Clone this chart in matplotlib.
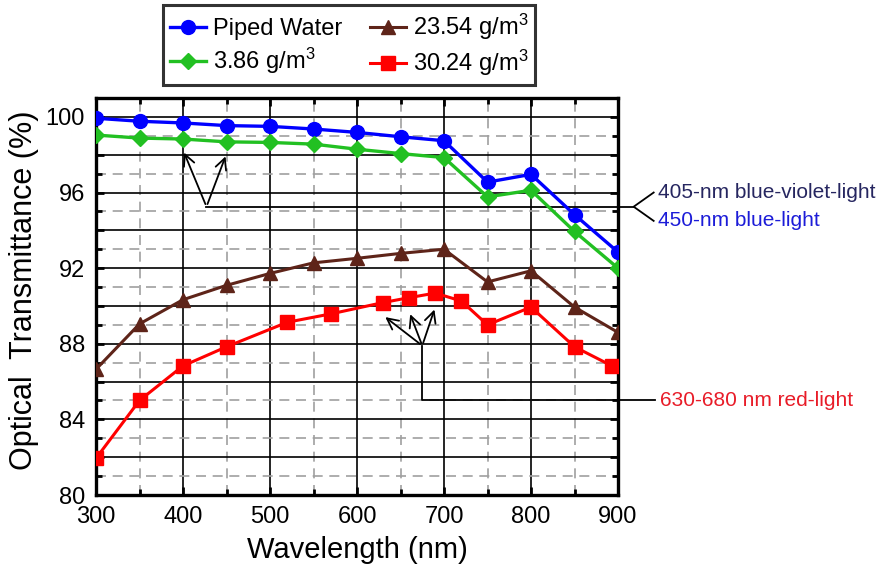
import matplotlib
matplotlib.use("Agg")
import matplotlib.pyplot as plt
from matplotlib.ticker import MultipleLocator, FuncFormatter

plt.rcParams['font.family'] = ['Liberation Sans', 'DejaVu Sans']
plt.rcParams['mathtext.fontset'] = 'custom'
plt.rcParams['mathtext.rm'] = 'Liberation Sans'
plt.rcParams['mathtext.it'] = 'Liberation Sans'

# ── Data ─────────────────────────────────────────
wl = [300, 350, 400, 450, 500, 550, 600, 650, 700, 750, 800, 850, 900]
piped = [99.93, 99.77, 99.68, 99.54, 99.50, 99.36, 99.18, 98.95, 98.74, 96.55, 96.96, 94.83, 92.85]
c386 = [99.04, 98.88, 98.83, 98.68, 98.65, 98.56, 98.29, 98.06, 97.85, 95.77, 96.12, 93.94, 92.0]
c2354 = [86.65, 89.05, 90.33, 91.09, 91.72, 92.28, 92.52, 92.78, 93.0, 91.27, 91.86, 89.94, 88.6]
wl_red = [300, 350, 400, 450, 520, 570, 630, 660, 690, 720, 750, 800, 850, 893]
c3024 = [81.94, 85.0, 86.83, 87.84, 89.14, 89.58, 90.18, 90.44, 90.68, 90.26, 89.0, 89.94, 87.84, 86.83]

labels = ["Piped Water", "3.86 g/m$^3$", "23.54 g/m$^3$", "30.24 g/m$^3$"]

fig = plt.figure(figsize=(8.86, 5.74), dpi=100)
ax = fig.add_axes([96/886, 1-495/574, 522/886, 397/574])

h1, = ax.plot(wl, piped, color='#0000ff', lw=2.4, marker='o', ms=10, zorder=5)
h2, = ax.plot(wl, c386, color='#22c022', lw=2.4, marker='D', ms=8, zorder=5)
h3, = ax.plot(wl, c2354, color='#5e2419', lw=2.2, marker='^', ms=10, zorder=5)
h4, = ax.plot(wl_red, c3024, color='#ff0000', lw=2.2, marker='s', ms=10, zorder=5)

ax.set_xlim(300, 900)
ax.set_ylim(80, 101)

ax.xaxis.set_major_locator(MultipleLocator(100))
ax.xaxis.set_minor_locator(MultipleLocator(50))
ax.yaxis.set_major_locator(MultipleLocator(2))
ax.yaxis.set_minor_locator(MultipleLocator(1))
ax.yaxis.set_major_formatter(FuncFormatter(lambda v, _: f"{v:.0f}" if v % 4 == 0 else ""))

ax.grid(True, which='major', color='black', lw=1.2, ls='-')
ax.grid(True, which='minor', color='#a0a0a0', lw=1.2, ls=(0, (6, 4)))
ax.set_axisbelow(True)

ax.tick_params(which='both', direction='in', top=True, right=True, width=2)
ax.tick_params(which='major', length=6, labelsize=17)
ax.tick_params(which='minor', length=4)
ax.tick_params(axis='x', which='major', pad=8)
ax.tick_params(axis='y', which='major', pad=8)
for s in ax.spines.values():
    s.set_linewidth(2.4)

ax.set_xlabel("Wavelength (nm)", fontsize=21, labelpad=6)
ax.set_ylabel("Optical  Transmittance (%)", fontsize=22)
ax.yaxis.set_label_coords(-0.11, 0.515)

# ── Annotations ─────────────────────────────────────────
arrow = dict(arrowstyle='->', color='black', lw=1.3, mutation_scale=20)
for tip in [(400, 98.25), (450, 98.05)]:
    ax.annotate("", xy=tip, xytext=(427, 95.25), arrowprops=arrow)
ax.plot([427, 918], [95.25, 95.25], color='black', lw=1.3, clip_on=False)
ax.plot([941, 918, 941], [96.0, 95.25, 94.5], color='black', lw=1.3, clip_on=False)
ax.text(946, 96.0, "405-nm blue-violet-light", color='#262660', fontsize=15,
        va='center', ha='left', clip_on=False)
ax.text(946, 94.5, "450-nm blue-light", color='#1c1cd8', fontsize=15,
        va='center', ha='left', clip_on=False)

for tip in [(630, 89.5), (660, 89.7), (690, 89.95)]:
    ax.annotate("", xy=tip, xytext=(675, 87.9), arrowprops=arrow)
ax.plot([675, 675, 943], [87.9, 85.0, 85.0], color='black', lw=1.3, clip_on=False)
ax.text(948, 85.0, "630-680 nm red-light", color='#e81c28', fontsize=15,
        va='center', ha='left', clip_on=False)

leg = fig.legend([h1, h2, h3, h4], labels, ncol=2, loc='upper left',
                 bbox_to_anchor=(163/886, 1-5/574),
                 fontsize=17, frameon=True, fancybox=False,
                 edgecolor='black', handlelength=1.5, handletextpad=0.3,
                 columnspacing=1.2, borderaxespad=0, labelspacing=0.25,
                 borderpad=0.3)
leg.get_frame().set_linewidth(2.2)

fig.savefig("out.png", dpi=100)
